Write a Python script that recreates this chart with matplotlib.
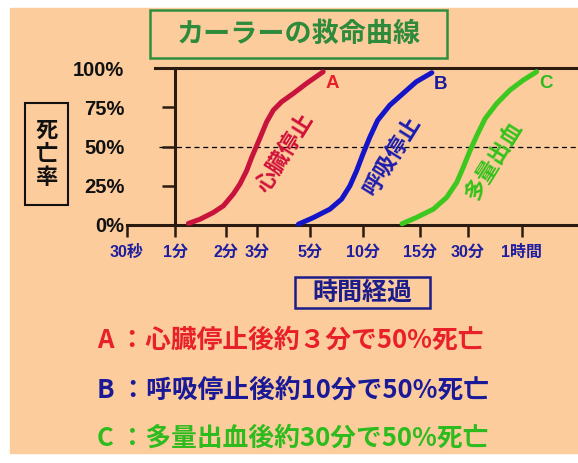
import numpy as np
import matplotlib.pyplot as plt
from matplotlib.patches import Rectangle

plt.rcParams['font.family'] = ['Noto Sans CJK JP', 'DejaVu Sans']

W, H = 578, 463

# time axis (minutes) and its labels
tick_minutes = [0.5, 1, 2, 3, 5, 10, 15, 30, 60]
tick_labels = ['30秒', '1分', '2分', '3分', '5分', '10分', '15分', '30分', '1時間']
y_ticks = [0, 25, 50, 75, 100]
y_labels = ['0%', '25%', '50%', '75%', '100%']

# A: 心臓停止
a_min = [1.20, 1.40, 1.68, 1.93, 2.20, 2.40, 2.62, 2.80, 2.99, 3.14, 3.29, 3.51, 3.80, 4.26, 4.84, 5.94]
a_pct = [1, 3.6, 7.9, 12.2, 19.7, 26.1, 34.6, 43.1, 50.6, 58.1, 65.6, 73.1, 78.4, 83.8, 90.2, 97.6]
# B: 呼吸停止
b_min = [4.47, 5.22, 6.49, 7.56, 8.43, 9.20, 10.0, 10.5, 11.1, 12.1, 13.3, 14.6, 17.8]
b_pct = [0.5, 4.7, 10.1, 16.5, 25, 34.6, 45.3, 56, 66.7, 76.3, 83.8, 91.2, 97]
# C: 多量出血
c_min = [13.2, 14.6, 18.2, 22.0, 25.5, 28.0, 30.8, 33.6, 37.4, 43.4, 51.4, 61.0, 72.4]
c_pct = [0.8, 4.7, 10.1, 17.5, 27.1, 36.7, 47.4, 57, 67.8, 77.4, 85.9, 92.3, 97.6]

notes = ['A ：心臓停止後約３分で50%死亡',
         'B ：呼吸停止後約10分で50%死亡',
         'C ：多量出血後約30分で50%死亡']

peach = '#FCCC9C'
dark = '#2A1A10'
red, blue, green = '#C8143C', '#1414C8', '#3CC81E'
red_t, blue_t, green_t = '#E8202A', '#1A1A99', '#2DBB1E'

# the time ticks in the original are hand spaced, so map log(minutes)
# piecewise onto the drawn positions
tick_px = np.array([127, 175, 226, 257, 310, 363, 420, 468, 522], float)
lg = np.log10(tick_minutes)


def fwd(m):
    l = np.log10(np.clip(np.asarray(m, float), 1e-3, None))
    out = np.interp(l, lg, tick_px)
    s0 = (tick_px[1] - tick_px[0]) / (lg[1] - lg[0])
    s1 = (tick_px[-1] - tick_px[-2]) / (lg[-1] - lg[-2])
    out = np.where(l < lg[0], tick_px[0] + (l - lg[0]) * s0, out)
    out = np.where(l > lg[-1], tick_px[-1] + (l - lg[-1]) * s1, out)
    return out


def inv(p):
    p = np.asarray(p, float)
    l = np.interp(p, tick_px, lg)
    s0 = (lg[1] - lg[0]) / (tick_px[1] - tick_px[0])
    s1 = (lg[-1] - lg[-2]) / (tick_px[-1] - tick_px[-2])
    l = np.where(p < tick_px[0], lg[0] + (p - tick_px[0]) * s0, l)
    l = np.where(p > tick_px[-1], lg[-1] + (p - tick_px[-1]) * s1, l)
    return 10 ** l


def fx(x):
    return x / W


def fy(y):
    return 1 - y / H


def box(fig, x0, y0, x1, y1, color, lw):
    fig.add_artist(Rectangle((fx(x0), fy(y1)), (x1 - x0) / W, (y1 - y0) / H,
                             transform=fig.transFigure, fill=False,
                             ec=color, lw=lw))


fig = plt.figure(figsize=(W / 100, H / 100), dpi=100)
fig.patch.set_facecolor('white')
fig.add_artist(Rectangle((fx(10), fy(453)), (W - 10) / W, 445 / H,
                         transform=fig.transFigure, color=peach, zorder=-10))

ax = fig.add_axes([fx(127), fy(225), (W - 127) / W, 157 / H])
ax.set_facecolor('none')
ax.set_xscale('function', functions=(fwd, inv))
xmax = float(inv(W))
ax.set_xlim(0.5, xmax)
ax.set_ylim(0, 100)

for side in ['left', 'bottom', 'top']:
    ax.spines[side].set_color(dark)
    ax.spines[side].set_linewidth(2.2)
ax.spines['right'].set_visible(False)
ax.spines['left'].set_position(('data', 1))
ax.spines['top'].set_bounds(float(inv(155)), xmax)

ax.set_xticks(tick_minutes)
ax.set_xticklabels(tick_labels, color='#1E1EA0', fontweight='bold', fontsize=11.5,
                   family=['Liberation Sans', 'Noto Sans CJK JP'])
ax.xaxis.set_minor_locator(plt.NullLocator())
ax.tick_params(axis='x', direction='out', length=8.5, width=1.8, color=dark, pad=6)

ax.set_yticks(y_ticks)
ax.set_yticklabels(y_labels, fontweight='bold', fontsize=14.5, color='#111111',
                   family=['Liberation Sans', 'DejaVu Sans'])
ax.yaxis.set_minor_locator(plt.NullLocator())
ax.tick_params(axis='y', direction='out', length=9.5, width=1.8, color=dark, pad=27)

ax.axhline(50, xmin=(159 - 127) / (W - 127), color='black', lw=0.9,
           ls=(0, (4, 3)), zorder=1)

for xs, ys, c, tag, tc in [(a_min, a_pct, red, 'A', red_t),
                           (b_min, b_pct, blue, 'B', blue_t),
                           (c_min, c_pct, green, 'C', green_t)]:
    ax.plot(xs, ys, color=c, lw=3.6, solid_capstyle='round',
            solid_joinstyle='round', zorder=3, clip_on=False)
    ax.annotate(tag, (xs[-1], ys[-1]), xytext=(6.5, -8.6),
                textcoords='offset points', ha='center', va='center',
                color=tc, fontsize=13.5, fontweight='bold',
                family=['Liberation Sans', 'DejaVu Sans'])

ax.text(3.93, 46, '心臓停止', rotation=58, rotation_mode='anchor', ha='center',
        va='center', color='#D0103A', fontsize=16, fontweight='bold')
ax.text(12.3, 44, '呼吸停止', rotation=58, rotation_mode='anchor', ha='center',
        va='center', color='#1C1CB0', fontsize=16, fontweight='bold')
ax.text(41.9, 41, '多量出血', rotation=58, rotation_mode='anchor', ha='center',
        va='center', color='#33C21A', fontsize=16, fontweight='bold')

# title box
box(fig, 150, 10, 447, 58, '#2F8F3F', 1.8)
fig.text(fx(298.5), fy(34), 'カーラーの救命曲線', ha='center', va='center',
         color='#2E8B3C', fontsize=19.5, fontweight='bold')

# y label box
box(fig, 25, 103, 68, 205, '#111111', 1.5)
fig.text(fx(46.5), fy(154), '死\n亡\n率', ha='center', va='center',
         ma='center', color='#111111', fontsize=16, fontweight='bold',
         linespacing=1.05)

# x label box
box(fig, 295, 277, 430, 308, '#1C1C8A', 1.8)
fig.text(fx(362.5), fy(293), '時間経過', ha='center', va='center',
         color='#1C1C8A', fontsize=18, fontweight='bold')

for txt, y, c in zip(notes, [340, 390, 438], [red_t, blue_t, green_t]):
    fig.text(fx(97), fy(y), txt, ha='left', va='center', color=c,
             fontsize=18.5, fontweight='bold')

fig.savefig('out.png', dpi=100)
